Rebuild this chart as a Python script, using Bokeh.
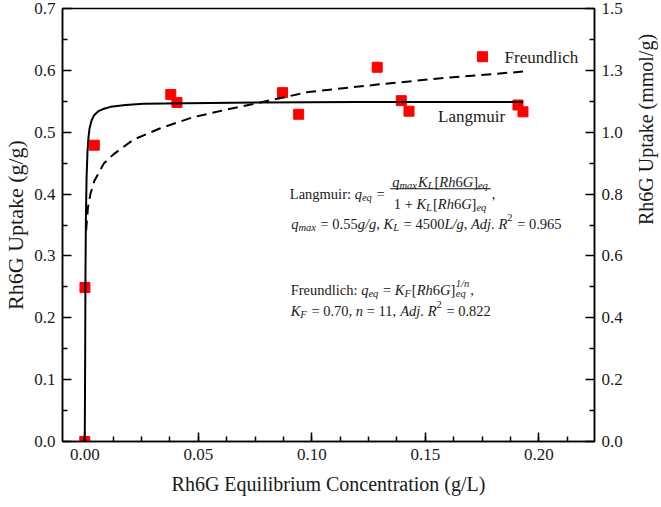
import math
from bokeh.plotting import figure
from bokeh.models import Range1d, LinearAxis, FixedTicker, NumeralTickFormatter, Label
from bokeh.embed import file_html
from bokeh.resources import INLINE

# ---------------- data ----------------
conc = [0.0, 0.0001, 0.0042, 0.0379, 0.0406, 0.0871, 0.0942, 0.1288, 0.1394, 0.1428, 0.1752, 0.1908, 0.1930]
uptake = [0.0, 0.249, 0.479, 0.561, 0.548, 0.564, 0.529, 0.605, 0.551, 0.534, 0.622, 0.544, 0.533]

lang_c = [0.0, 0.0002, 0.0003, 0.0005, 0.0008, 0.0012, 0.0016, 0.0021, 0.0030, 0.0042,
          0.0060, 0.0085, 0.0114, 0.018, 0.0258, 0.045, 0.0762, 0.12, 0.16, 0.193]
lang_q = [0.0, 0.15, 0.26, 0.36, 0.426, 0.468, 0.49, 0.506, 0.519, 0.528,
          0.534, 0.538, 0.541, 0.544, 0.546, 0.547, 0.548, 0.549, 0.549, 0.549]

freu_c = [0.0006, 0.0014, 0.0025, 0.0042, 0.0085, 0.0129, 0.0215, 0.033, 0.0474,
          0.0618, 0.0748, 0.0984, 0.1288, 0.159, 0.193]
freu_q = [0.341, 0.378, 0.400, 0.421, 0.450, 0.465, 0.488, 0.506, 0.524,
          0.536, 0.546, 0.565, 0.577, 0.588, 0.598]

x_ticks = [0.0, 0.05, 0.10, 0.15, 0.20]
x_minor = [0.0125 * i for i in range(0, 18)]
y_ticks = [0.0, 0.1, 0.2, 0.3, 0.4, 0.5, 0.6, 0.7]
y_minor = [0.05, 0.15, 0.25, 0.35, 0.45, 0.55, 0.65]
right_labels = ["0.0", "0.2", "0.4", "0.6", "0.8", "1.0", "1.3", "1.5"]

# ---------------- layout constants ----------------
FONT = "Liberation Serif, serif"
X0, X1 = -0.0098, 0.2245
Y0, Y1 = 0.0, 0.7
FW, FH = 532, 433

p = figure(frame_width=FW, frame_height=FH, x_range=Range1d(X0, X1), y_range=Range1d(Y0, Y1),
           output_backend="svg", toolbar_location=None,
           min_border_top=8, min_border_left=2, min_border_right=2, min_border_bottom=2)
p.xgrid.visible = False
p.ygrid.visible = False
p.outline_line_color = "black"
p.outline_line_width = 1.5
p.background_fill_color = "white"
p.border_fill_color = "white"

p.xaxis.axis_label = "Rh6G Equilibrium Concentration (g/L)"
p.yaxis.axis_label = "Rh6G Uptake (g/g)"
p.xaxis.ticker = FixedTicker(ticks=x_ticks, minor_ticks=x_minor)
p.yaxis.ticker = FixedTicker(ticks=y_ticks, minor_ticks=y_minor)
p.xaxis.formatter = NumeralTickFormatter(format="0.00")
p.yaxis.formatter = NumeralTickFormatter(format="0.0")

ax_r = LinearAxis(axis_label="Rh6G Uptake (mmol/g)",
                  ticker=FixedTicker(ticks=y_ticks, minor_ticks=y_minor),
                  major_label_overrides={t: l for t, l in zip(y_ticks, right_labels)})
p.add_layout(ax_r, "right")

for ax in [p.xaxis[0], p.yaxis[0], ax_r]:
    ax.major_tick_in = 9
    ax.major_tick_out = 0
    ax.minor_tick_in = 5
    ax.minor_tick_out = 0
    ax.axis_line_width = 1.5
    ax.major_tick_line_width = 1.5
    ax.minor_tick_line_width = 1.5
    ax.axis_line_color = "black"
    ax.major_tick_line_color = "black"
    ax.minor_tick_line_color = "black"
    ax.major_label_text_font = FONT
    ax.major_label_text_font_size = "17px"
    ax.major_label_text_color = "#1a1a1a"
    ax.major_label_standoff = 7
    ax.axis_label_text_font = FONT
    ax.axis_label_text_font_size = "20px"
    ax.axis_label_text_font_style = "normal"
    ax.axis_label_text_color = "#1a1a1a"
    ax.axis_label_standoff = 4
p.yaxis[0].axis_label_text_font_size = "22px"
p.yaxis[0].axis_label_standoff = 3
p.xaxis[0].axis_label_standoff = 10
ax_r.axis_label_orientation = math.pi / 2
ax_r.axis_label_standoff = 20

# ---------------- marks ----------------
p.scatter(conc, uptake, marker="square", size=10, color="#ff0000", line_color="#ff0000")
p.line(freu_c, freu_q, line_width=2, color="black", line_dash="10 6")
p.line(lang_c, lang_q, line_width=2, color="black")

p.add_layout(Label(x=0.1849, y=0.620, text="Freundlich", text_font=FONT, text_font_size="17px",
                   text_baseline="middle", text_color="#1a1a1a"))
p.add_layout(Label(x=0.1556, y=0.5254, text="Langmuir", text_font=FONT, text_font_size="17px",
                   text_baseline="middle", text_color="#1a1a1a"))

# ---------------- equations ----------------
REG = {' ': 250, '(': 333, ')': 333, '+': 564, ',': 250, '.': 250, '/': 278, ':': 278, '=': 564,
       'A': 722, 'F': 556, 'G': 722, 'K': 722, 'L': 611, 'R': 667, '[': 333, ']': 333,
       'a': 444, 'c': 444, 'd': 500, 'e': 444, 'g': 500, 'h': 500, 'i': 278, 'j': 278, 'l': 278,
       'm': 778, 'n': 500, 'q': 500, 'r': 333, 'u': 500, 'x': 500}
ITA = {' ': 250, '.': 250, '/': 278, 'A': 611, 'F': 611, 'G': 722, 'K': 667, 'L': 556, 'R': 611,
       'a': 500, 'd': 500, 'e': 444, 'g': 500, 'h': 500, 'j': 278, 'm': 722, 'n': 500, 'q': 500, 'x': 444}
B, S = 14.5, 10.5
ROLE = {'n': (B, 0.0, 0.0), 'b': (S, -3.5, 1.0), 'p': (S, 6.0, 1.0)}
SX = FW / (X1 - X0)
SY = FH / (Y1 - Y0)


def tw(t, it, size):
    tbl = ITA if it else REG
    return sum(tbl.get(ch, 500) for ch in t) * size / 1000.0


def put(x, y, dx, dy, t, it, size):
    p.add_layout(Label(x=x, y=y, x_offset=dx, y_offset=dy, text=t.replace(" ", "\u00a0"),
                       text_font=FONT, text_font_size="%gpx" % size,
                       text_font_style="italic" if it else "normal",
                       text_baseline="alphabetic", text_align="left", text_color="#1a1a1a"))


def measure(runs):
    return sum(tw(t, it, ROLE[r][0]) + ROLE[r][2] for t, it, r in runs)


def run_line(x, y, runs, dx=0.0, dy=0.0):
    for t, it, r in runs:
        size, off, extra = ROLE[r]
        put(x, y, dx, dy + off, t, it, size)
        dx += tw(t, it, size) + extra
    return dx


R_, I_ = False, True
rh6g = [("[", R_, 'n'), ("Rh", I_, 'n'), ("6", R_, 'n'), ("G", I_, 'n'), ("]", R_, 'n')]

# Langmuir
lx, ly = 0.0903, 0.4005
dx = run_line(lx, ly, [("Langmuir: ", R_, 'n'), ("q", I_, 'n'), ("eq", I_, 'b'), (" = ", R_, 'n')])
dx += 2
num = [("q", I_, 'n'), ("max", I_, 'b'), ("K", I_, 'n'), ("L", I_, 'b')] + rh6g + [("eq", I_, 'b')]
den = [("1 + ", R_, 'n'), ("K", I_, 'n'), ("L", I_, 'b')] + rh6g + [("eq", I_, 'b')]
wn, wd = measure(num), measure(den)
W = max(wn, wd) + 4
run_line(lx, ly, num, dx + (W - wn) / 2, 12)
run_line(lx, ly, den, dx + (W - wd) / 2, -10)
p.segment(x0=[lx + dx / SX], x1=[lx + (dx + W) / SX], y0=[ly + 5 / SY], y1=[ly + 5 / SY],
          line_width=1, color="#1a1a1a")
run_line(lx, ly, [(",", R_, 'n')], dx + W + 1)

lx2, ly2 = 0.0909, 0.3524
run_line(lx2, ly2, [("q", I_, 'n'), ("max", I_, 'b'), (" = 0.55", R_, 'n'), ("g/g", I_, 'n'),
                    (", ", R_, 'n'), ("K", I_, 'n'), ("L", I_, 'b'), (" = 4500", R_, 'n'),
                    ("L/g", I_, 'n'), (", ", R_, 'n'), ("Adj. R", I_, 'n'), ("2", R_, 'p'),
                    (" = 0.965", R_, 'n')])

# Freundlich
fx, fy = 0.0907, 0.2456
dx = run_line(fx, fy, [("Freundlich: ", R_, 'n'), ("q", I_, 'n'), ("eq", I_, 'b'), (" = ", R_, 'n'),
                       ("K", I_, 'n'), ("F", I_, 'b')] + rh6g)
put(fx, fy, dx + 0.5, 6.5, "1/n", True, S)
put(fx, fy, dx + 0.5, -3.5, "eq", True, S)
dx += max(tw("1/n", True, S), tw("eq", True, S)) + 1.5
run_line(fx, fy, [(",", R_, 'n')], dx)

fx2, fy2 = 0.0907, 0.2114
run_line(fx2, fy2, [("K", I_, 'n'), ("F", I_, 'b'), (" = 0.70, ", R_, 'n'), ("n", I_, 'n'),
                    (" = 11, ", R_, 'n'), ("Adj. R", I_, 'n'), ("2", R_, 'p'), (" = 0.822", R_, 'n')])

open("out.html", "w").write(file_html(p, INLINE))
